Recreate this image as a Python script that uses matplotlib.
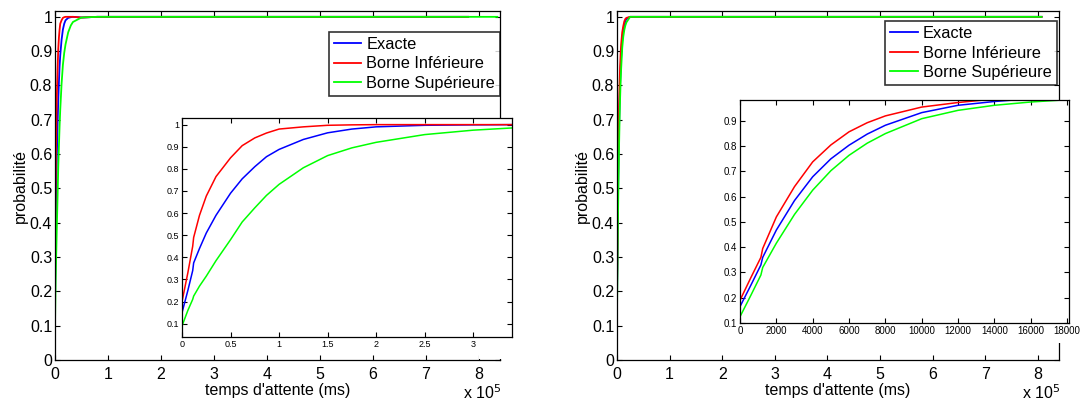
import matplotlib
matplotlib.use("Agg")
import matplotlib.pyplot as plt
from matplotlib.patches import Rectangle
import numpy as np

plt.rcParams['font.family'] = ['Liberation Sans', 'DejaVu Sans']

# inset 1 (left), x in units of 1e4 ms
lx = [0, 0.06, 0.11, 0.12, 0.18, 0.25, 0.35, 0.5, 0.62, 0.75, 0.87, 1.0, 1.25, 1.5, 1.75, 2.0, 2.5, 3.0, 3.4]
l_exacte = [0.15, 0.25, 0.34, 0.375, 0.44, 0.51, 0.59, 0.69, 0.755, 0.81, 0.855, 0.888, 0.933, 0.963, 0.98, 0.99, 0.997, 0.999, 1.0]
l_inf = [0.20, 0.33, 0.45, 0.49, 0.59, 0.677, 0.765, 0.85, 0.905, 0.94, 0.962, 0.98, 0.99, 0.997, 0.999, 1.0, 1.0, 1.0, 1.0]
l_sup = [0.09, 0.16, 0.21, 0.225, 0.27, 0.315, 0.385, 0.48, 0.56, 0.624, 0.68, 0.73, 0.805, 0.86, 0.895, 0.92, 0.955, 0.975, 0.985]

# inset 2 (right), x in ms
rx = [0, 600, 1150, 1250, 2000, 3000, 4000, 5000, 6000, 7000, 8000, 10000, 12000, 14000, 16000, 18000]
r_exacte = [0.165, 0.25, 0.33, 0.36, 0.468, 0.585, 0.679, 0.75, 0.804, 0.848, 0.883, 0.933, 0.962, 0.977, 0.988, 0.994]
r_inf = [0.19, 0.28, 0.36, 0.395, 0.52, 0.64, 0.738, 0.805, 0.857, 0.893, 0.92, 0.955, 0.973, 0.987, 0.994, 0.997]
r_sup = [0.125, 0.21, 0.29, 0.32, 0.416, 0.53, 0.626, 0.703, 0.764, 0.812, 0.85, 0.909, 0.942, 0.962, 0.975, 0.984]

# tails of the main curves (x in 1e5 ms)
l_tail_x = [0.5, 0.8]
l_tail_y = [0.998, 1.0]
l_end = [7.8, 7.8, 8.35]
r_tail_x = [0.25]
r_tail_y = [1.0]
r_end = [8.07, 8.07, 8.07]

names = ['Exacte', 'Borne Inférieure', 'Borne Supérieure']
colors = ['#0000ff', '#ff0000', '#00ff00']


def matlab_style(ax, size, xpad=2, ypad=2):
    ax.tick_params(direction='in', top=True, right=True, labelsize=size,
                   length=3.5, width=0.8)
    ax.tick_params(axis='x', pad=xpad)
    ax.tick_params(axis='y', pad=ypad)
    for s in ax.spines.values():
        s.set_linewidth(0.9)


fig = plt.figure(figsize=(10.86, 4.03), dpi=100)

main_pos = [[0.0506, 0.1067, 0.4098, 0.866], [0.5681, 0.1067, 0.407, 0.866]]
ins_pos = [[0.1676, 0.1638, 0.3039, 0.5434], [0.6814, 0.1985, 0.3029, 0.5534]]

left_curves = [l_exacte, l_inf, l_sup]
right_curves = [r_exacte, r_inf, r_sup]

for k in range(2):
    ax = fig.add_axes(main_pos[k])
    if k == 0:
        xs = list(np.array(lx) * 0.1)
        curves, tx, ty, ends = left_curves, l_tail_x, l_tail_y, l_end
    else:
        xs = list(np.array(rx) / 1e5)
        curves, tx, ty, ends = right_curves, r_tail_x, r_tail_y, r_end
    for name, c, ys, e in zip(names, colors, curves, ends):
        ax.plot(xs + tx + [e], list(ys) + ty + [1.0], color=c, lw=1.3, label=name)
    ax.set_xlim(0, 8.4)
    ax.set_ylim(0, 1.017)
    ax.set_xticks(range(0, 9))
    ax.set_yticks(np.arange(0, 1.01, 0.1))
    ax.set_yticklabels(['0', '0.1', '0.2', '0.3', '0.4', '0.5', '0.6', '0.7', '0.8', '0.9', '1'])
    matlab_style(ax, 11.5, xpad=5, ypad=2)
    ax.set_xlabel("temps d'attente (ms)", fontsize=11.5, labelpad=1)
    ax.set_ylabel('probabilité', fontsize=11.5, labelpad=1)
    ax.text(0.96, -0.113, r'x 10$^5$', transform=ax.transAxes, fontsize=11.5,
            ha='center', va='baseline')
    anchor = (1.0, 0.94) if k == 0 else (0.995, 0.971)
    leg = ax.legend(loc='upper right', bbox_to_anchor=anchor,
                    fontsize=11.8, frameon=True, fancybox=False, handlelength=1.7,
                    handletextpad=0.3, borderpad=0.3, labelspacing=0.28, borderaxespad=0)
    leg.get_frame().set_edgecolor('black')
    leg.get_frame().set_linewidth(1.2)

# inset left
ai = fig.add_axes(ins_pos[0])
for c, ys in zip(colors, left_curves):
    ai.plot(lx, ys, color=c, lw=1.1)
ai.set_xlim(0, 3.4)
ai.set_ylim(0.04, 1.03)
ai.set_xticks([0, 0.5, 1, 1.5, 2, 2.5, 3])
ai.set_xticklabels(['0', '0.5', '1', '1.5', '2', '2.5', '3'])
ai.set_yticks(np.arange(0.1, 1.01, 0.1))
ai.set_yticklabels(['0.1', '0.2', '0.3', '0.4', '0.5', '0.6', '0.7', '0.8', '0.9', '1'])
matlab_style(ai, 6.5)
ai.add_patch(Rectangle((0.9, -0.1), 0.2, 0.1, transform=ai.transAxes,
                       facecolor='white', edgecolor='none', clip_on=False, zorder=0.5))

# inset right
ai2 = fig.add_axes(ins_pos[1])
for c, ys in zip(colors, right_curves):
    ai2.plot(rx, ys, color=c, lw=1.1)
ai2.set_xlim(0, 18100)
ai2.set_ylim(0.1, 0.983)
ai2.set_xticks(range(0, 18001, 2000))
ai2.set_yticks(np.arange(0.1, 0.91, 0.1))
ai2.set_yticklabels(['0.1', '0.2', '0.3', '0.4', '0.5', '0.6', '0.7', '0.8', '0.9'])
matlab_style(ai2, 7)
ai2.add_patch(Rectangle((0.9, -0.09), 0.2, 0.09, transform=ai2.transAxes,
                        facecolor='white', edgecolor='none', clip_on=False, zorder=0.5))

fig.savefig('out.png', dpi=100)
